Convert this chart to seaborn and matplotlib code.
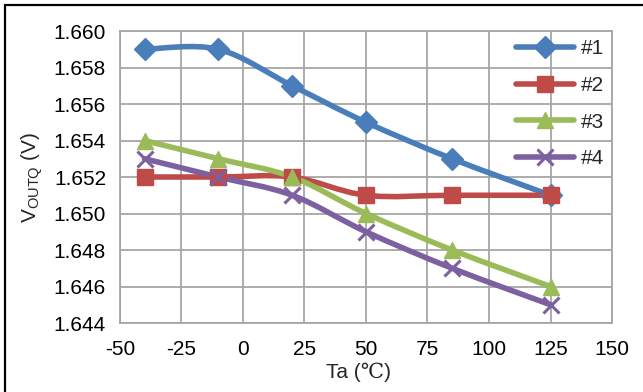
import numpy as np
import pandas as pd
import matplotlib
matplotlib.use("Agg")
import matplotlib.pyplot as plt
import seaborn as sns
from matplotlib.path import Path
from matplotlib.patches import PathPatch, Rectangle
from matplotlib.lines import Line2D

# data
temps = [-40, -10, 20, 50, 85, 125]
v1 = [1.659, 1.659, 1.657, 1.655, 1.653, 1.651]
v2 = [1.652, 1.652, 1.652, 1.651, 1.651, 1.651]
v3 = [1.654, 1.653, 1.652, 1.650, 1.648, 1.646]
v4 = [1.653, 1.652, 1.651, 1.649, 1.647, 1.645]
labels = ["#1", "#2", "#3", "#4"]

colors = ["#4A7EBB", "#BE4B48", "#9BBB59", "#7D60A0"]
markers = ["D", "s", "^", "x"]
msizes = [11, 11, 12, 12]
FS = 15

sns.set_theme(style="white")
plt.rcParams["font.family"] = ["Liberation Sans", "DejaVu Sans"]
plt.rcParams["mathtext.fontset"] = "custom"
plt.rcParams["mathtext.rm"] = "Liberation Sans"
plt.rcParams["axes.unicode_minus"] = False

df = pd.DataFrame({"Ta": temps * 4,
                   "V": v1 + v2 + v3 + v4,
                   "dev": sum([[l] * len(temps) for l in labels], [])})

fig, ax = plt.subplots(figsize=(6.43, 3.92), dpi=100)
fig.subplots_adjust(left=0.1866, right=0.9518, top=0.9209, bottom=0.176)


def smooth_path(xs, ys):
    # Excel-style smoothed line: Catmull-Rom as cubic bezier segments
    pts = np.column_stack([xs, ys])
    verts = [pts[0]]
    codes = [Path.MOVETO]
    n = len(pts)
    for i in range(n - 1):
        p0 = pts[i - 1] if i > 0 else pts[i]
        p1 = pts[i]
        p2 = pts[i + 1]
        p3 = pts[i + 2] if i + 2 < n else pts[i + 1]
        c1 = p1 + (p2 - p0) / 6
        c2 = p2 - (p3 - p1) / 6
        verts += [c1, c2, p2]
        codes += [Path.CURVE4] * 3
    return Path(verts, codes)


for lab, c in zip(labels, colors):
    d = df[df["dev"] == lab]
    ax.add_patch(PathPatch(smooth_path(d["Ta"].values, d["V"].values),
                           facecolor="none", edgecolor=c, lw=4.0,
                           capstyle="round", joinstyle="round", zorder=3))

for lab, c, m, ms in zip(labels, colors, markers, msizes):
    d = df[df["dev"] == lab]
    ax.plot(d["Ta"], d["V"], ls="none", marker=m, ms=ms, color=c,
            mec=c, mew=2.2 if m == "x" else 1, zorder=4)

ax.set_xlim(-50, 150)
ax.set_ylim(1.644, 1.660)
ax.set_xticks(range(-50, 151, 25))
yt = np.arange(1.644, 1.6601, 0.002)
ax.set_yticks(yt)
ax.set_yticklabels([f"{t:.3f}" for t in yt])
ax.grid(True, color="#A6A6A6", lw=1.3)
for s in ax.spines.values():
    s.set_color("#A6A6A6")
    s.set_linewidth(1.3)
ax.tick_params(axis="both", length=0, labelsize=FS, colors="black")
ax.tick_params(axis="y", pad=10)
ax.tick_params(axis="x", pad=12)

ax.set_ylabel(r"V$_{\mathrm{OUTQ}}$ (V)", fontsize=FS, labelpad=6)
ax.set_xlabel("Ta (\u2103)", fontsize=FS,
              family=["Liberation Sans", "DejaVu Serif"])
ax.xaxis.set_label_coords(0.485, -0.135)

handles = [Line2D([], [], color=c, lw=4.0, marker=m, ms=ms, mec=c,
                  mew=2.2 if m == "x" else 1)
           for c, m, ms in zip(colors, markers, msizes)]
ax.legend(handles, labels, loc="upper right", frameon=False, fontsize=FS,
          handlelength=2.8, labelspacing=0.85, handletextpad=0.3,
          bbox_to_anchor=(1.0, 1.0), borderaxespad=0.0)

fig.patches.append(Rectangle((5 / 643, -0.05), 1.1, 1 - 5 / 392 + 0.05,
                             transform=fig.transFigure, fill=False,
                             edgecolor="black", lw=1.6))

fig.savefig("out.png", dpi=100)
